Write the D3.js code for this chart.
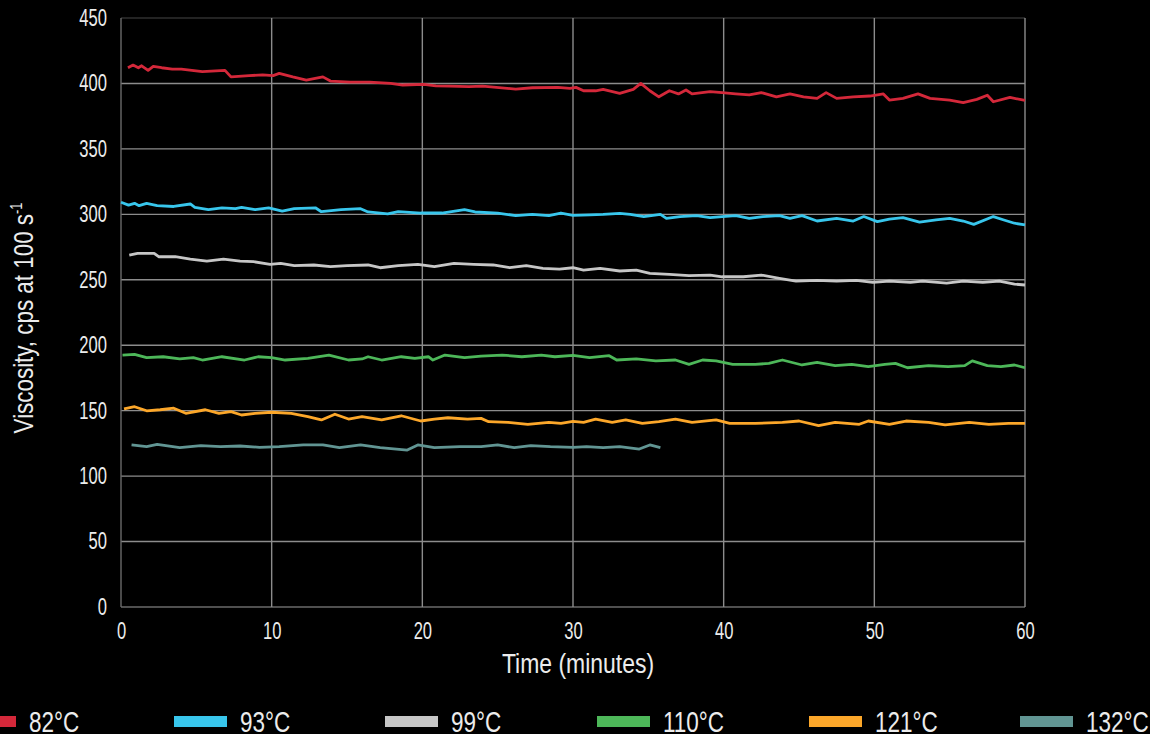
<!DOCTYPE html>
<html>
<head>
<meta charset="utf-8">
<script src="https://cdn.jsdelivr.net/npm/d3@7/dist/d3.min.js"></script>
<style>
  html, body { margin: 0; padding: 0; background: #000; }
  svg { display: block; }
  text { font-family: "Liberation Sans", Arial, sans-serif; fill: #ececec; }
</style>
</head>
<body>
<svg id="chart" width="1150" height="734"></svg>
<script>
// ---------- data ----------
const xTicks = [0, 10, 20, 30, 40, 50, 60];
const yTicks = [0, 50, 100, 150, 200, 250, 300, 350, 400, 450];
const seriesNames = ["82°C", "93°C", "99°C", "110°C", "121°C", "132°C"];
const seriesColors = ["#d4283a", "#38c6ec", "#c6c6c6", "#4db759", "#fca72a", "#619593"];

const s82 = [
  [0.46,412],[0.8,414],[1.15,412],[1.37,413.5],[1.8,410],[2.14,413],[2.7,412],[3.4,411],[4.0,411],
  [5.4,409],[6.3,409.6],[6.9,410],[7.3,405],[8.5,406],[9.4,406.5],[10.1,406],[10.5,407.7],[11.4,405],
  [12.3,402.6],[13.4,405],[13.9,401.8],[15.2,401],[16.5,401],[17.9,400],[18.7,398.8],[20.1,399.3],
  [20.9,398.2],[21.8,398],[23.1,397.5],[24.0,398],[26.2,395.7],[27.3,396.7],[29.0,397],[29.8,396.2],
  [30.2,397],[30.7,394.4],[31.5,394.4],[32.0,395.5],[33.1,392.4],[34.0,395.5],[34.5,400],[35.1,394.4],
  [35.7,389.8],[36.4,394.4],[37.0,392],[37.5,395],[37.9,392],[39.1,393.7],[39.9,393],[40.8,392],
  [41.7,391.2],[42.5,393],[43.5,389.8],[44.4,392],[45.3,389.8],[46.2,388.6],[46.8,393],[47.5,388.6],
  [48.6,389.8],[49.7,390.4],[50.6,392],[51.0,387.3],[51.9,388.6],[52.9,392],[53.7,388.6],[55.0,387.3],
  [55.9,385.3],[56.8,387.8],[57.5,391],[57.9,386],[59.0,389.3],[60.0,387]
];
const s93 = [
  [0.0,309.2],[0.5,307],[0.9,308.4],[1.2,306.6],[1.7,308.4],[2.4,306.7],[3.5,306],[4.6,307.9],[4.9,305.3],
  [5.8,303.6],[6.7,305],[7.6,304.3],[8.0,305.3],[8.9,303.6],[9.8,305],[10.7,302.5],[11.5,304.3],[12.9,305],
  [13.3,302],[14.6,303.6],[15.9,304.3],[16.4,301.8],[17.7,300.4],[18.4,302],[19.9,301],[21.3,301],
  [22.8,303.6],[23.5,301.8],[25.0,301],[26.2,299],[27.3,300],[28.4,299],[29.2,301],[30.0,299.2],
  [31.1,299.6],[32.0,300],[33.1,300.8],[33.8,300],[34.7,298.3],[35.8,300],[36.2,296.9],[37.1,298.3],
  [38.2,299],[39.1,297.5],[39.9,298.3],[40.8,299],[41.7,296.9],[42.6,298.3],[43.7,299],[44.4,296.9],
  [45.2,299],[46.2,294.9],[47.5,296.9],[48.6,294.9],[49.3,298.3],[50.2,294.4],[51.0,296.4],[51.9,297.5],
  [53.0,294],[54.1,295.7],[55.0,296.9],[55.9,294.9],[56.6,292.3],[57.9,298.3],[58.6,295.7],[59.3,293.2],
  [60.0,291.9]
];
const s99 = [
  [0.55,268.9],[1.1,270.2],[2.2,270.2],[2.5,267.6],[3.6,267.6],[4.6,265.8],[5.7,264.3],[6.8,265.8],
  [7.9,264.3],[8.8,263.8],[9.9,261.8],[10.6,262.6],[11.5,260.8],[12.8,261.3],[13.9,260],[15.0,260.8],
  [16.4,261.3],[17.2,259.2],[18.4,260.8],[19.7,261.8],[20.8,260],[22.1,262.6],[23.4,261.8],[24.7,261.3],
  [25.8,259.2],[26.9,260.8],[28.0,258.7],[29.1,258.2],[30.0,259.2],[30.7,257.4],[31.8,258.7],[33.1,256.7],
  [34.2,257.4],[35.1,254.9],[36.4,254.2],[37.7,253.1],[39.1,253.6],[39.9,252.3],[41.3,252.3],[42.5,253.6],
  [43.7,251.1],[44.8,249],[46.2,249.6],[47.5,249],[48.8,249.6],[49.9,248],[51.0,249],[52.4,248],[53.2,249],
  [54.8,247.4],[55.9,249],[57.2,248],[58.3,249],[59.3,246.7],[60.0,246]
];
const s110 = [
  [0.1,192.5],[0.9,193],[1.7,190.5],[2.8,191.2],[3.9,189.5],[4.8,190.5],[5.4,188.7],[6.7,191.2],[8.2,188.7],
  [9.1,191.2],[10.0,190.5],[10.9,188.7],[12.4,190],[13.8,192.5],[15.1,188.7],[16.0,189.5],[16.4,191.2],
  [17.3,188.7],[18.6,191.2],[19.5,190],[20.4,191.2],[20.7,188.7],[21.5,192.5],[22.8,190.5],[23.9,191.7],
  [25.3,192.5],[26.6,191.2],[27.9,192.5],[28.8,191.2],[30.0,192.3],[31.1,190.5],[32.4,192],[32.9,188.7],
  [34.2,189.5],[35.5,188],[36.8,188.7],[37.7,185.4],[38.6,188.7],[39.5,188],[40.6,185.4],[42.1,185.4],
  [43.0,186.1],[43.9,188.7],[45.2,184.9],[46.2,186.9],[47.4,184.4],[48.5,185.4],[49.6,183.6],[50.7,185.4],
  [51.4,186.1],[52.2,182.8],[53.6,184.4],[54.9,183.6],[56.0,184.4],[56.5,188],[57.5,184.4],[58.4,183.6],
  [59.3,184.9],[60.0,182.8]
];
const s121 = [
  [0.2,151.3],[0.9,153],[1.7,149.9],[2.6,150.7],[3.5,151.9],[4.3,148],[5.6,150.7],[6.5,148],[7.3,149.3],
  [8.0,146.7],[8.9,148],[10.0,148.8],[11.3,148],[12.4,145.4],[13.3,142.9],[14.2,147.3],[15.1,143.6],
  [16.0,145.4],[17.3,142.9],[18.6,146.1],[19.9,142.1],[20.8,143.6],[21.7,144.6],[23.0,143.6],[23.9,144.1],
  [24.4,141.6],[25.7,141.1],[27.0,139.6],[28.4,141.1],[29.2,140.3],[30.0,141.8],[30.7,141.1],[31.5,143.6],
  [32.6,141.1],[33.5,142.9],[34.6,140.3],[35.7,141.6],[36.8,143.6],[37.9,141.1],[39.5,142.9],[40.4,140.3],
  [42.1,140.3],[43.9,141.1],[45.0,142.1],[46.3,138.5],[47.4,141.1],[49.0,139.6],[49.6,142.1],[51.0,139.6],
  [52.1,142.1],[53.6,141.1],[54.7,139.1],[56.3,141.1],[57.6,139.6],[58.9,140.3],[60.0,140.3]
];
const s132 = [
  [0.7,123.8],[1.7,122.5],[2.4,124.3],[3.9,121.7],[5.3,123.3],[6.6,122.5],[7.9,123],[9.2,122],[10.5,122.5],
  [12.1,123.8],[13.4,123.8],[14.5,121.7],[15.9,123.8],[17.2,121.7],[19.0,119.9],[19.7,123.8],[20.8,121.7],
  [22.5,122.5],[23.9,122.5],[25.0,123.8],[26.1,121.7],[27.2,123.3],[28.5,122.5],[30.0,122],[30.9,122.5],
  [32.0,121.7],[33.1,122.5],[34.4,120.7],[35.1,123.8],[35.8,121.7]
];
const seriesData = [s82, s93, s99, s110, s121, s132];

// ---------- chart ----------
const svg = d3.select("#chart");
const x = d3.scaleLinear().domain([0, 60]).range([121, 1025]);
const y = d3.scaleLinear().domain([0, 450]).range([607, 18]);

// condense text horizontally (reference uses a narrow typeface)
function condense(sel, ratio) {
  sel.each(function () {
    const w = this.getComputedTextLength();
    d3.select(this).attr("textLength", w * ratio).attr("lengthAdjust", "spacingAndGlyphs");
  });
}

const gridColor = "#8c8c8c";

// horizontal grid
svg.append("g").attr("class", "hgrid")
  .selectAll("line").data(yTicks).join("line")
  .attr("x1", x(0)).attr("x2", x(60))
  .attr("y1", d => y(d)).attr("y2", d => y(d))
  .attr("stroke", d => d === 0 ? "#6a6a6a" : gridColor)
  .attr("stroke-width", d => d === 450 ? 1 : 1.4)
  .attr("stroke-opacity", d => d === 450 ? 0.5 : 1);

// vertical grid
svg.append("g").attr("class", "vgrid")
  .selectAll("line").data(xTicks).join("line")
  .attr("x1", d => x(d)).attr("x2", d => x(d))
  .attr("y1", y(0)).attr("y2", y(450))
  .attr("stroke", d => d === 0 ? "#6a6a6a" : gridColor)
  .attr("stroke-width", 1.4);

// axes tick labels using d3 axes
const yAxis = d3.axisLeft(y).tickValues(yTicks).tickSize(0).tickPadding(14);
const gy = svg.append("g").attr("transform", `translate(${x(0)},0)`).call(yAxis);
gy.select(".domain").remove();
gy.selectAll("text").style("font-size", "23px").style("font-family", "Liberation Sans").attr("fill", "#ececec");
condense(gy.selectAll("text"), 0.72);

const xAxis = d3.axisBottom(x).tickValues(xTicks).tickSize(0).tickPadding(16);
const gx = svg.append("g").attr("transform", `translate(0,${y(0)})`).call(xAxis);
gx.select(".domain").remove();
gx.selectAll("text").style("font-size", "23px").style("font-family", "Liberation Sans").attr("fill", "#ececec");
condense(gx.selectAll("text"), 0.72);

// lines
const line = d3.line().x(d => x(d[0])).y(d => y(d[1]));
svg.append("g").selectAll("path").data(seriesData).join("path")
  .attr("d", line)
  .attr("fill", "none")
  .attr("stroke", (d, i) => seriesColors[i])
  .attr("stroke-width", 2.8)
  .attr("stroke-linejoin", "round");

// axis titles
svg.append("text")
  .attr("transform", "translate(578,673) scale(0.85,1)")
  .attr("text-anchor", "middle")
  .style("font-size", "27px")
  .text("Time (minutes)");

const yt = svg.append("text")
  .attr("transform", "translate(33,318) rotate(-90) scale(0.8,1)")
  .attr("text-anchor", "middle")
  .style("font-size", "28px");
yt.append("tspan").text("Viscosity, cps at 100 s");
yt.append("tspan").attr("dy", -11).style("font-size", "16px").text("-1");

// legend
const legendX = [-37, 174, 385, 597, 809, 1020];
const lg = svg.append("g").selectAll("g").data(seriesNames).join("g")
  .attr("transform", (d, i) => `translate(${legendX[i]},0)`);
lg.append("rect").attr("x", 0).attr("y", 716).attr("width", 53).attr("height", 11)
  .attr("fill", (d, i) => seriesColors[i]);
lg.append("text").attr("transform", "translate(66,732) scale(0.75,1)")
  .style("font-size", "30px")
  .text(d => d);
</script>
</body>
</html>
